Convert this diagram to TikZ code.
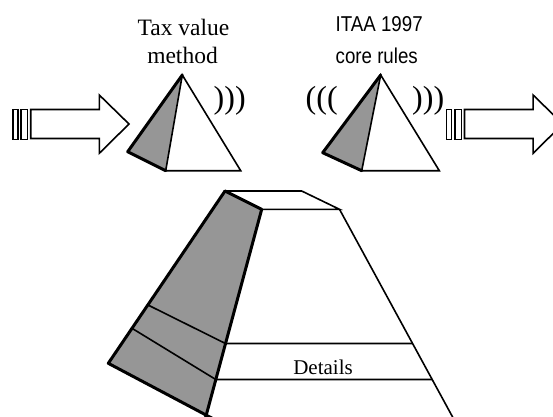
\documentclass[tikz,border=0pt]{standalone}
\usepackage{fontspec}
\usetikzlibrary{calc}
\setmainfont{Liberation Serif}
\newfontfamily\narrowsans[FakeStretch=0.87]{Liberation Sans}
\definecolor{shadegray}{RGB}{150,150,150}
\begin{document}
\begin{tikzpicture}[x=1pt,y=-1pt,
  lnA/.style={line width=1.6pt,line join=miter},
  lnB/.style={line width=3pt,line join=round,line cap=round},
  serif/.style={font=\fontsize{23.5}{28}\selectfont,inner sep=0pt,anchor=base},
  narrow/.style={font=\narrowsans\fontsize{21.5}{26}\selectfont,inner sep=0pt,anchor=base west},
  paren/.style={font=\fontsize{32}{36}\selectfont,inner sep=0pt,anchor=base west}]
\useasboundingbox (0,0) rectangle (553,416);
\clip (0,0) rectangle (553,416);

% ---- fat arrows
\foreach \s in {0,433.8}{
 \begin{scope}[xshift=\s pt]
  \draw[lnA] (12.7,109.5) rectangle (17.7,139.5);
  \draw[lnA] (21,109.5) rectangle (27.5,139.5);
  \draw[lnA] (30.7,109.5) -- (99.3,109.5) -- (99.3,95) -- (129,124) -- (99.3,153.3) -- (99.3,138.5) -- (30.7,138.5) -- cycle;
 \end{scope}}

% ---- left small pyramid
\coordinate (la) at (182.3,75);
\coordinate (ll) at (127.7,151.7);
\coordinate (lf) at (165.7,170.7);
\coordinate (lr) at (240.7,170.7);
\fill[shadegray] (la) -- (ll) -- (lf) -- cycle;
\draw[lnA] (la) -- (lf) -- (lr) -- cycle;
\draw[lnB] (la) -- (ll) -- (lf);

% ---- right small pyramid
\coordinate (ra) at (380.7,75);
\coordinate (rl) at (322.7,152.7);
\coordinate (rf) at (361.7,170.7);
\coordinate (rr) at (439.3,170.7);
\fill[shadegray] (ra) -- (rl) -- (rf) -- cycle;
\draw[lnA] (ra) -- (rf) -- (rr) -- cycle;
\draw[lnB] (ra) -- (rl) -- (rf);

% ---- parentheses
\node[paren] (p1) at (213.5,108) {)))};
\node[paren] (p2) at (305.5,108) {(((};
\node[paren] (p3) at (412,108) {)))};

% ---- labels
\node[serif] (t1) at (183.5,35) {Tax value};
\node[serif] (t2) at (182.5,63) {method};
\node[narrow] (i1) at (335.5,31) {ITAA 1997};
\node[narrow] (i2) at (335.5,63) {core rules};

% ---- big pyramid
\coordinate (p1a) at (225,191);
\coordinate (p2a) at (301.7,191);
\coordinate (p3a) at (339.5,209.3);
\coordinate (p4a) at (261.7,209.3);
\coordinate (bl) at (108.3,363.3);
\coordinate (bf) at (206,415);
\coordinate (bfe) at (203.3,426);
\coordinate (br) at (457.5,426);
\fill[shadegray] (p1a) -- (p4a) -- (bf) -- (bl) -- cycle;
\draw[lnA] (p1a) -- (p2a) -- (p3a) -- (p4a);
\draw[lnA] (p3a) -- (br);
\draw[lnA] (148,305) -- (225.5,343.5) -- (412.5,343.5);
\draw[lnA] (132,328.3) -- (215.8,379.5) -- (432.1,379.5);
\draw[lnB] (p1a) -- (p4a) -- (bfe);
\draw[lnB] (p1a) -- (bl) -- ($(bl)!1.1!(bf)$);
\node[font=\fontsize{21}{25}\selectfont,inner sep=0pt,anchor=base] (det) at (323,374) {Details};
\end{tikzpicture}
\end{document}
